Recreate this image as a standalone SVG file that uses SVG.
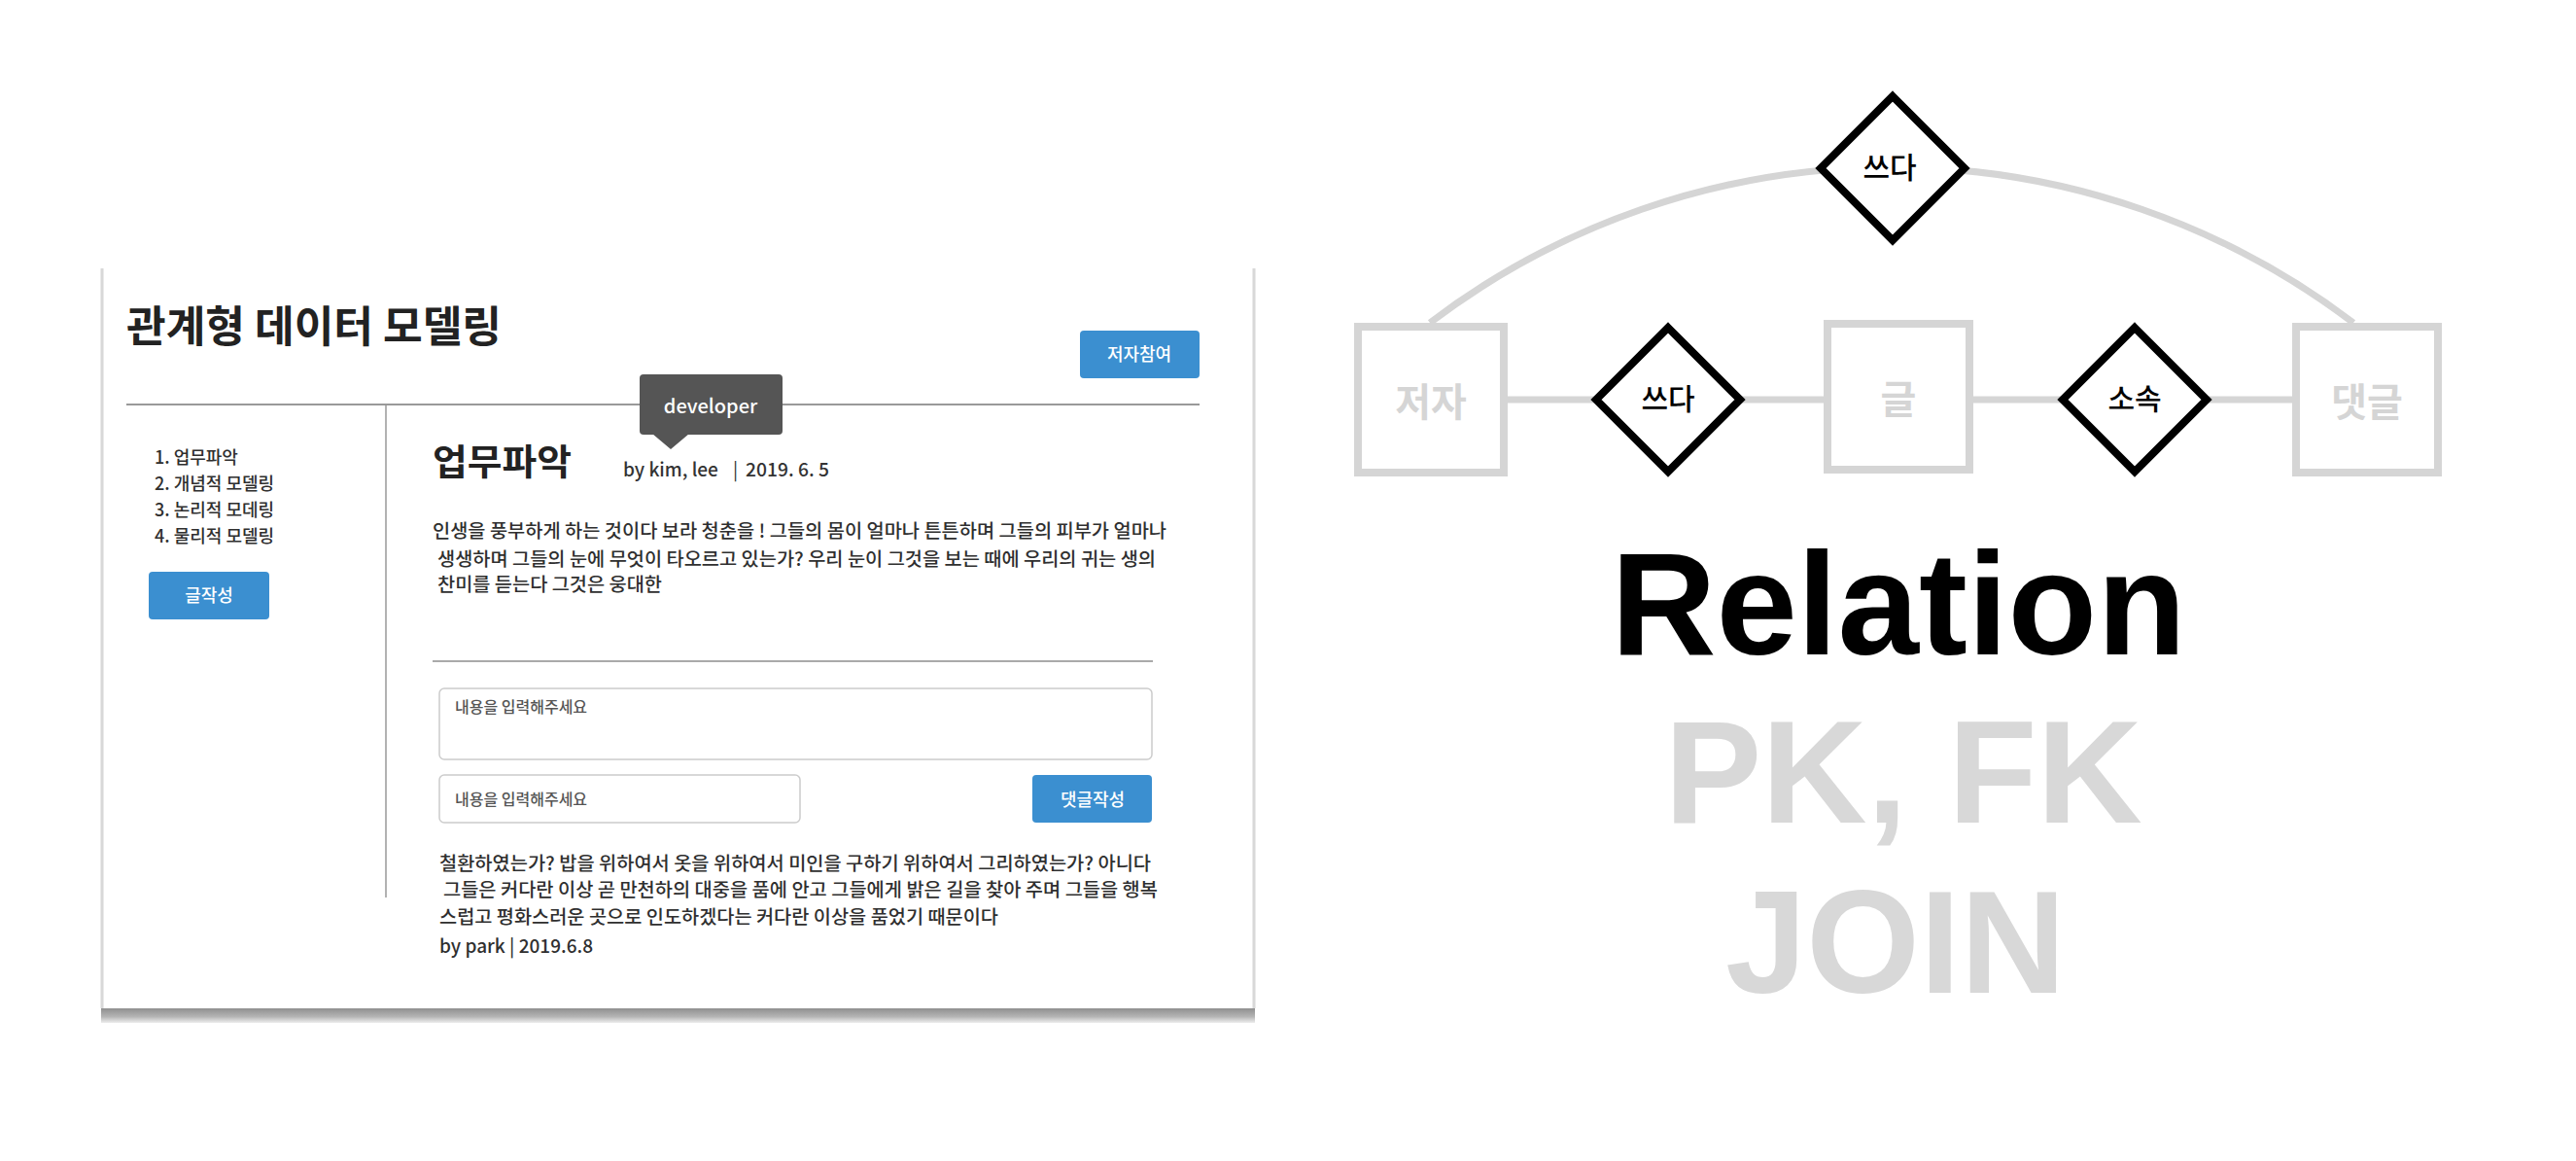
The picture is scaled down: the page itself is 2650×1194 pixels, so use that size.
<svg xmlns="http://www.w3.org/2000/svg" width="2650" height="1194" viewBox="0 0 2650 1194">
<defs>
<style>
.kr{font-family:"Noto Sans CJK KR","Noto Sans",sans-serif;}
.body{font-size:19px;fill:#2f2f2f;font-weight:500;}
.side{font-size:18px;fill:#2f2f2f;font-weight:500;}
.ph{font-size:16px;fill:#555;font-weight:500;}
.btn{fill:#3b8fd0;}
.btxt{font-size:18px;fill:#fff;text-anchor:middle;font-weight:500;}
.ent{fill:#fff;stroke:#d5d5d5;stroke-width:8;}
.etxt{font-size:40px;font-weight:700;fill:#d5d5d5;text-anchor:middle;}
.rel{fill:#fff;stroke:#000;stroke-width:8;stroke-linejoin:miter;}
.rtxt{font-size:30px;font-weight:500;fill:#000;text-anchor:middle;}
.conn{fill:none;stroke:#d5d5d5;stroke-width:7;}
.big{font-family:"Liberation Sans",Arial,sans-serif;font-weight:700;font-size:150px;text-anchor:middle;}
</style>
<linearGradient id="shadow" x1="0" y1="0" x2="0" y2="1">
<stop offset="0" stop-color="#8a8a8a"/>
<stop offset="0.6" stop-color="#b5b5b5"/>
<stop offset="1" stop-color="#eeeeee"/>
</linearGradient>
</defs>
<rect width="2650" height="1194" fill="#fff"/>

<!-- Left: web page mockup card -->
<g id="card">
<rect x="104" y="1036" width="1187" height="16" fill="url(#shadow)"/>
<rect x="104" y="274" width="1187" height="763" fill="#fff"/>
<line x1="105" y1="276" x2="105" y2="1037" stroke="#d8d8d8" stroke-width="3"/>
<line x1="1290" y1="276" x2="1290" y2="1037" stroke="#d8d8d8" stroke-width="3"/>

<text class="kr" x="130" y="352" font-size="44" font-weight="700" fill="#222" textLength="386" lengthAdjust="spacingAndGlyphs">관계형 데이터 모델링</text>

<g id="btn-author-join">
<rect class="btn" x="1111" y="340" width="123" height="49" rx="4"/>
<text class="kr btxt" x="1172" y="371">저자참여</text>
</g>

<line x1="130" y1="416" x2="1234" y2="416" stroke="#999" stroke-width="2"/>
<line x1="397" y1="416" x2="397" y2="923" stroke="#999" stroke-width="1.5"/>

<g id="sidebar">
<text class="kr side" x="159" y="477">1. 업무파악</text>
<text class="kr side" x="159" y="504">2. 개념적 모델링</text>
<text class="kr side" x="159" y="531">3. 논리적 모데링</text>
<text class="kr side" x="159" y="558">4. 물리적 모델링</text>
<rect class="btn" x="153" y="588" width="124" height="49" rx="4"/>
<text class="kr btxt" x="215" y="619">글작성</text>
</g>

<g id="tooltip">
<rect x="658" y="385" width="147" height="62" rx="4" fill="#555"/>
<polygon points="671,446 709,446 690,462" fill="#555"/>
<text class="kr" x="731" y="425" font-size="20" font-weight="500" fill="#fff" text-anchor="middle">developer</text>
</g>

<text class="kr" x="445" y="489" font-size="37" font-weight="700" fill="#222" textLength="143" lengthAdjust="spacingAndGlyphs">업무파악</text>
<text class="kr" x="641" y="490" font-size="19" font-weight="500" fill="#333">by kim, lee</text>
<text class="kr" x="754" y="490" font-size="19" fill="#333">|</text>
<text class="kr" x="767" y="490" font-size="19" font-weight="500" fill="#333" textLength="86" lengthAdjust="spacingAndGlyphs">2019. 6. 5</text>

<text class="kr body" x="445" y="553" textLength="755" lengthAdjust="spacingAndGlyphs">인생을 풍부하게 하는 것이다 보라 청춘을 ! 그들의 몸이 얼마나 튼튼하며 그들의 피부가 얼마나</text>
<text class="kr body" x="450" y="582" textLength="739" lengthAdjust="spacingAndGlyphs">생생하며 그들의 눈에 무엇이 타오르고 있는가? 우리 눈이 그것을 보는 때에 우리의 귀는 생의</text>
<text class="kr body" x="450" y="608" textLength="231" lengthAdjust="spacingAndGlyphs">찬미를 듣는다 그것은 웅대한</text>

<line x1="445" y1="680" x2="1186" y2="680" stroke="#aaa" stroke-width="2"/>

<rect x="452" y="708" width="733" height="73" rx="5" fill="#fff" stroke="#ccc" stroke-width="1.5"/>
<text class="kr ph" x="468" y="733">내용을 입력해주세요</text>
<rect x="452" y="797" width="371" height="49" rx="5" fill="#fff" stroke="#ccc" stroke-width="1.5"/>
<text class="kr ph" x="468" y="828">내용을 입력해주세요</text>
<g id="btn-comment">
<rect class="btn" x="1062" y="797" width="123" height="49" rx="4"/>
<text class="kr btxt" x="1124" y="829">댓글작성</text>
</g>

<text class="kr body" x="452" y="895" textLength="732" lengthAdjust="spacingAndGlyphs">철환하였는가? 밥을 위하여서 옷을 위하여서 미인을 구하기 위하여서 그리하였는가? 아니다</text>
<text class="kr body" x="456" y="922" textLength="735" lengthAdjust="spacingAndGlyphs">그들은 커다란 이상 곧 만천하의 대중을 품에 안고 그들에게 밝은 길을 찾아 주며 그들을 행복</text>
<text class="kr body" x="452" y="950" textLength="575" lengthAdjust="spacingAndGlyphs">스럽고 평화스러운 곳으로 인도하겠다는 커다란 이상을 품었기 때문이다</text>
<text class="kr body" x="452" y="980" textLength="158" lengthAdjust="spacingAndGlyphs">by park | 2019.6.8</text>
</g>

<!-- Right: ER diagram -->
<g id="connectors">
<path class="conn" d="M1471,332 A785,785 0 0 1 2421,332"/>
<line class="conn" x1="1551" y1="411" x2="1640" y2="411"/>
<line class="conn" x1="1792" y1="411" x2="1878" y2="411"/>
<line class="conn" x1="2028" y1="411" x2="2120" y2="411"/>
<line class="conn" x1="2272" y1="411" x2="2360" y2="411"/>
</g>

<g id="node-author">
<rect class="ent" x="1397" y="336" width="150" height="150"/>
<text class="kr etxt" x="1472" y="428">저자</text>
</g>
<g id="node-post">
<rect class="ent" x="1880" y="333" width="146" height="150"/>
<text class="kr etxt" x="1953" y="425">글</text>
</g>
<g id="node-comment">
<rect class="ent" x="2362" y="336" width="146" height="150"/>
<text class="kr etxt" x="2435" y="428">댓글</text>
</g>

<g id="rel-write-post">
<polygon class="rel" points="1716,337 1790,411 1716,485 1642,411"/>
<text class="kr rtxt" x="1716" y="421">쓰다</text>
</g>
<g id="rel-belong">
<polygon class="rel" points="2196,337 2270,411 2196,485 2122,411"/>
<text class="kr rtxt" x="2196" y="421">소속</text>
</g>
<g id="rel-write-comment">
<polygon class="rel" points="1947,99 2021,173 1947,247 1873,173"/>
<text class="kr rtxt" x="1944" y="183">쓰다</text>
</g>

<g id="labels">
<text class="big" x="1953" y="673" fill="#000">Relation</text>
<text class="big" x="1958" y="846" fill="#d8d8d8">PK, FK</text>
<text class="big" x="1950" y="1021" fill="#d8d8d8">JOIN</text>
</g>
</svg>
